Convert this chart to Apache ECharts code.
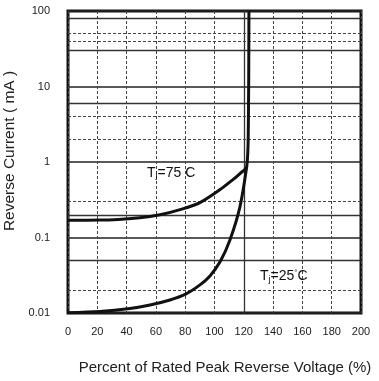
<!DOCTYPE html>
<html>
<head>
<meta charset="utf-8">
<script src="https://cdn.jsdelivr.net/npm/echarts@6/dist/echarts.min.js"></script>
<style>
  html, body { margin: 0; padding: 0; background: #fff; }
  #chart { width: 379px; height: 381px; }
</style>
</head>
<body>
<div id="chart"></div>
<script>
// percent of rated peak reverse voltage / reverse current (mA)
const curve75 = [
  [0, 0.169], [21.8, 0.17], [49.1, 0.183], [62.8, 0.2], [76.5, 0.234],
  [90.1, 0.29], [103.8, 0.431], [112.6, 0.585], [117.4, 0.703], [122, 0.87],
  [123.1, 3], [123.5, 100],
];
const curve25 = [
  [0, 0.0101], [21.8, 0.01047], [42.3, 0.01148], [56, 0.01277], [69.6, 0.01489],
  [79.9, 0.01762], [90.1, 0.02356], [96.9, 0.031], [103.8, 0.0476],
  [110.6, 0.0933], [117.4, 0.2564], [122, 0.87],
];
const xTicks = [0, 20, 40, 60, 80, 100, 120, 140, 160, 180, 200];
const yTicks = [0.01, 0.1, 1, 10, 100];
// extra grid lines printed on the sheet
const gridSolidY = [0.05, 0.2, 6, 30, 80];
const gridDottedY = [0.02, 0.3, 2, 4, 40, 50];
const gridSolidX = [120];

const font = "'Liberation Sans Narrow', 'Liberation Sans', Arial, sans-serif";
const plainFont = "'Liberation Sans', Arial, sans-serif";

const chart = echarts.init(document.getElementById('chart'));

chart.setOption({
  animation: false,
  backgroundColor: '#fff',
  grid: {
    left: 68,
    right: 18,
    top: 11,
    bottom: 68,
    containLabel: false,
    outerBoundsMode: 'none',
    show: true,
    borderWidth: 3,
    borderColor: '#111',
  },
  xAxis: {
    type: 'value',
    min: xTicks[0],
    max: xTicks[xTicks.length - 1],
    interval: 20,
    name: 'Percent of Rated Peak Reverse Voltage (%)',
    nameLocation: 'middle',
    nameGap: 47,
    nameTextStyle: {
      fontFamily: plainFont,
      fontSize: 15,
      color: '#222',
      padding: [0, 0, 0, 21],
    },
    axisLine: { show: false },
    axisTick: { show: false },
    axisLabel: {
      margin: 13,
      fontFamily: font,
      fontSize: 11,
      color: '#222',
    },
    splitLine: {
      show: true,
      lineStyle: { color: '#444', width: 1, type: [3, 2] },
    },
  },
  yAxis: {
    type: 'log',
    logBase: 10,
    min: yTicks[0],
    max: yTicks[yTicks.length - 1],
    name: 'Reverse Current ( mA )',
    nameLocation: 'middle',
    nameGap: 46,
    nameTextStyle: {
      fontFamily: plainFont,
      fontSize: 15.5,
      color: '#222',
      padding: [0, 0, 0, 22],
    },
    axisLine: { show: false },
    axisTick: { show: false },
    axisLabel: {
      margin: 18,
      fontFamily: font,
      fontSize: 11,
      color: '#222',
      formatter: (v) => String(v),
    },
    splitLine: {
      show: true,
      lineStyle: { color: '#222', width: 1.5 },
    },
  },
  series: [
    {
      type: 'line',
      data: [],
      silent: true,
      markLine: {
        silent: true,
        symbol: 'none',
        label: { show: false },
        lineStyle: { color: '#333', width: 1.3, type: 'solid' },
        data: gridSolidY.map((v) => ({ yAxis: v }))
          .concat(gridSolidX.map((v) => ({ xAxis: v }))),
      },
    },
    {
      type: 'line',
      data: [],
      silent: true,
      markLine: {
        silent: true,
        symbol: 'none',
        label: { show: false },
        lineStyle: { color: '#444', width: 1, type: [3, 2] },
        data: gridDottedY.map((v) => ({ yAxis: v })),
      },
    },
    {
      name: 'Tj=75C',
      type: 'line',
      data: curve75,
      smooth: 0.3,
      showSymbol: false,
      z: 5,
      lineStyle: { color: '#111', width: 3 },
    },
    {
      name: 'Tj=25C',
      type: 'line',
      data: curve25,
      smooth: 0.3,
      showSymbol: false,
      z: 5,
      lineStyle: { color: '#111', width: 3 },
    },
  ],
  graphic: [
    {
      type: 'text',
      left: 147,
      top: 166,
      z: 10,
      style: {
        text: '{t|T}{s|j}{t|=75 C}',
        rich: {
          t: { fontFamily: plainFont, fontSize: 14, fill: '#111' },
          s: { fontFamily: plainFont, fontSize: 9, fill: '#111', verticalAlign: 'bottom', padding: [6, 0, 0, 0] },
        },
      },
    },
    {
      type: 'text',
      left: 260,
      top: 269,
      z: 10,
      style: {
        text: '{t|T}{s|j}{t|=25}{d|°}{t|C}',
        rich: {
          t: { fontFamily: plainFont, fontSize: 14, fill: '#111' },
          s: { fontFamily: plainFont, fontSize: 9, fill: '#111', verticalAlign: 'bottom', padding: [6, 0, 0, 0] },
          d: { fontFamily: plainFont, fontSize: 8, fill: '#111', verticalAlign: 'top', padding: [0, 0, 6, 0] },
        },
      },
    },
  ],
});
</script>
</body>
</html>
